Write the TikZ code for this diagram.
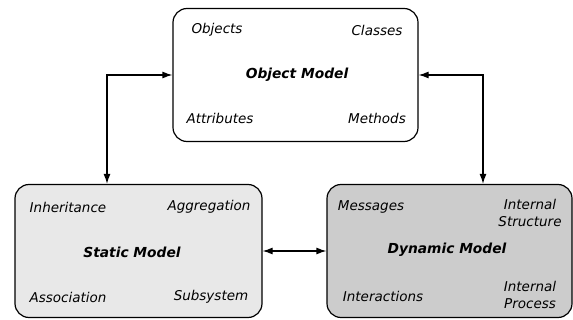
\documentclass[tikz,border=0pt]{standalone}
\usepackage{fontspec}
\setmainfont{DejaVu Sans}
\usetikzlibrary{arrows.meta}

\definecolor{staticgray}{gray}{0.91}
\definecolor{dynamicgray}{gray}{0.80}

\tikzset{
  model/.style={draw, line width=1.2pt, rounded corners=14pt,
    minimum width=245pt, minimum height=133pt, inner sep=0pt},
  item/.style={font=\itshape\fontsize{13.5}{17}\selectfont, align=center, inner sep=0pt},
  title/.style={font=\bfseries\itshape\fontsize{13.8}{17}\selectfont, inner sep=0pt},
  link/.style={line width=1.2pt, {Latex[length=10pt,width=7pt]}-{Latex[length=10pt,width=7pt]}}
}

\begin{document}
\begin{tikzpicture}[x=1pt,y=-1pt]
        \useasboundingbox (0,0) rectangle (573,320);

        % object model
        \node (om) [model] at (295.5,75) {};
        \node (omobj) [item] at (217,30) {Objects};
        \node (omcls) [item] at (377,30) {Classes};
        \node (omtit) [title] at (297,75) {Object Model};
        \node (omatt) [item] at (220,118) {Attributes};
        \node (ommet) [item] at (377,118) {Methods};

        % static model
        \node (sm) [model, fill=staticgray, minimum width=247pt] at (138.5,251) {};
        \node (sminh) [item] at (68,207) {Inheritance};
        \node (smagg) [item] at (209,207) {Aggregation};
        \node (smtit) [title] at (132,252) {Static Model};
        \node (smass) [item] at (68,297) {Association};
        \node (smsub) [item] at (211,297) {Subsystem};

        % dynamic model
        \node (dm) [model, fill=dynamicgray] at (449.5,251) {};
        \node (dmmsg) [item] at (371,207) {Messages};
        \node (dmstr) [item] at (530,213) {Internal\\Structure};
        \node (dmtit) [title] at (447,250) {Dynamic Model};
        \node (dmint) [item] at (383,296) {Interactions};
        \node (dmpro) [item] at (530,295) {Internal\\Process};

        % connectors
        \coordinate (sj) at (107,0 |- sm.north);
        \coordinate (dj) at (483,0 |- dm.north);
        \draw[link] (sj) |- (om.west);
        \draw[link] (om.east) -| (dj);
        \draw[link] (sm.east) -- (dm.west);
\end{tikzpicture}
\end{document}
